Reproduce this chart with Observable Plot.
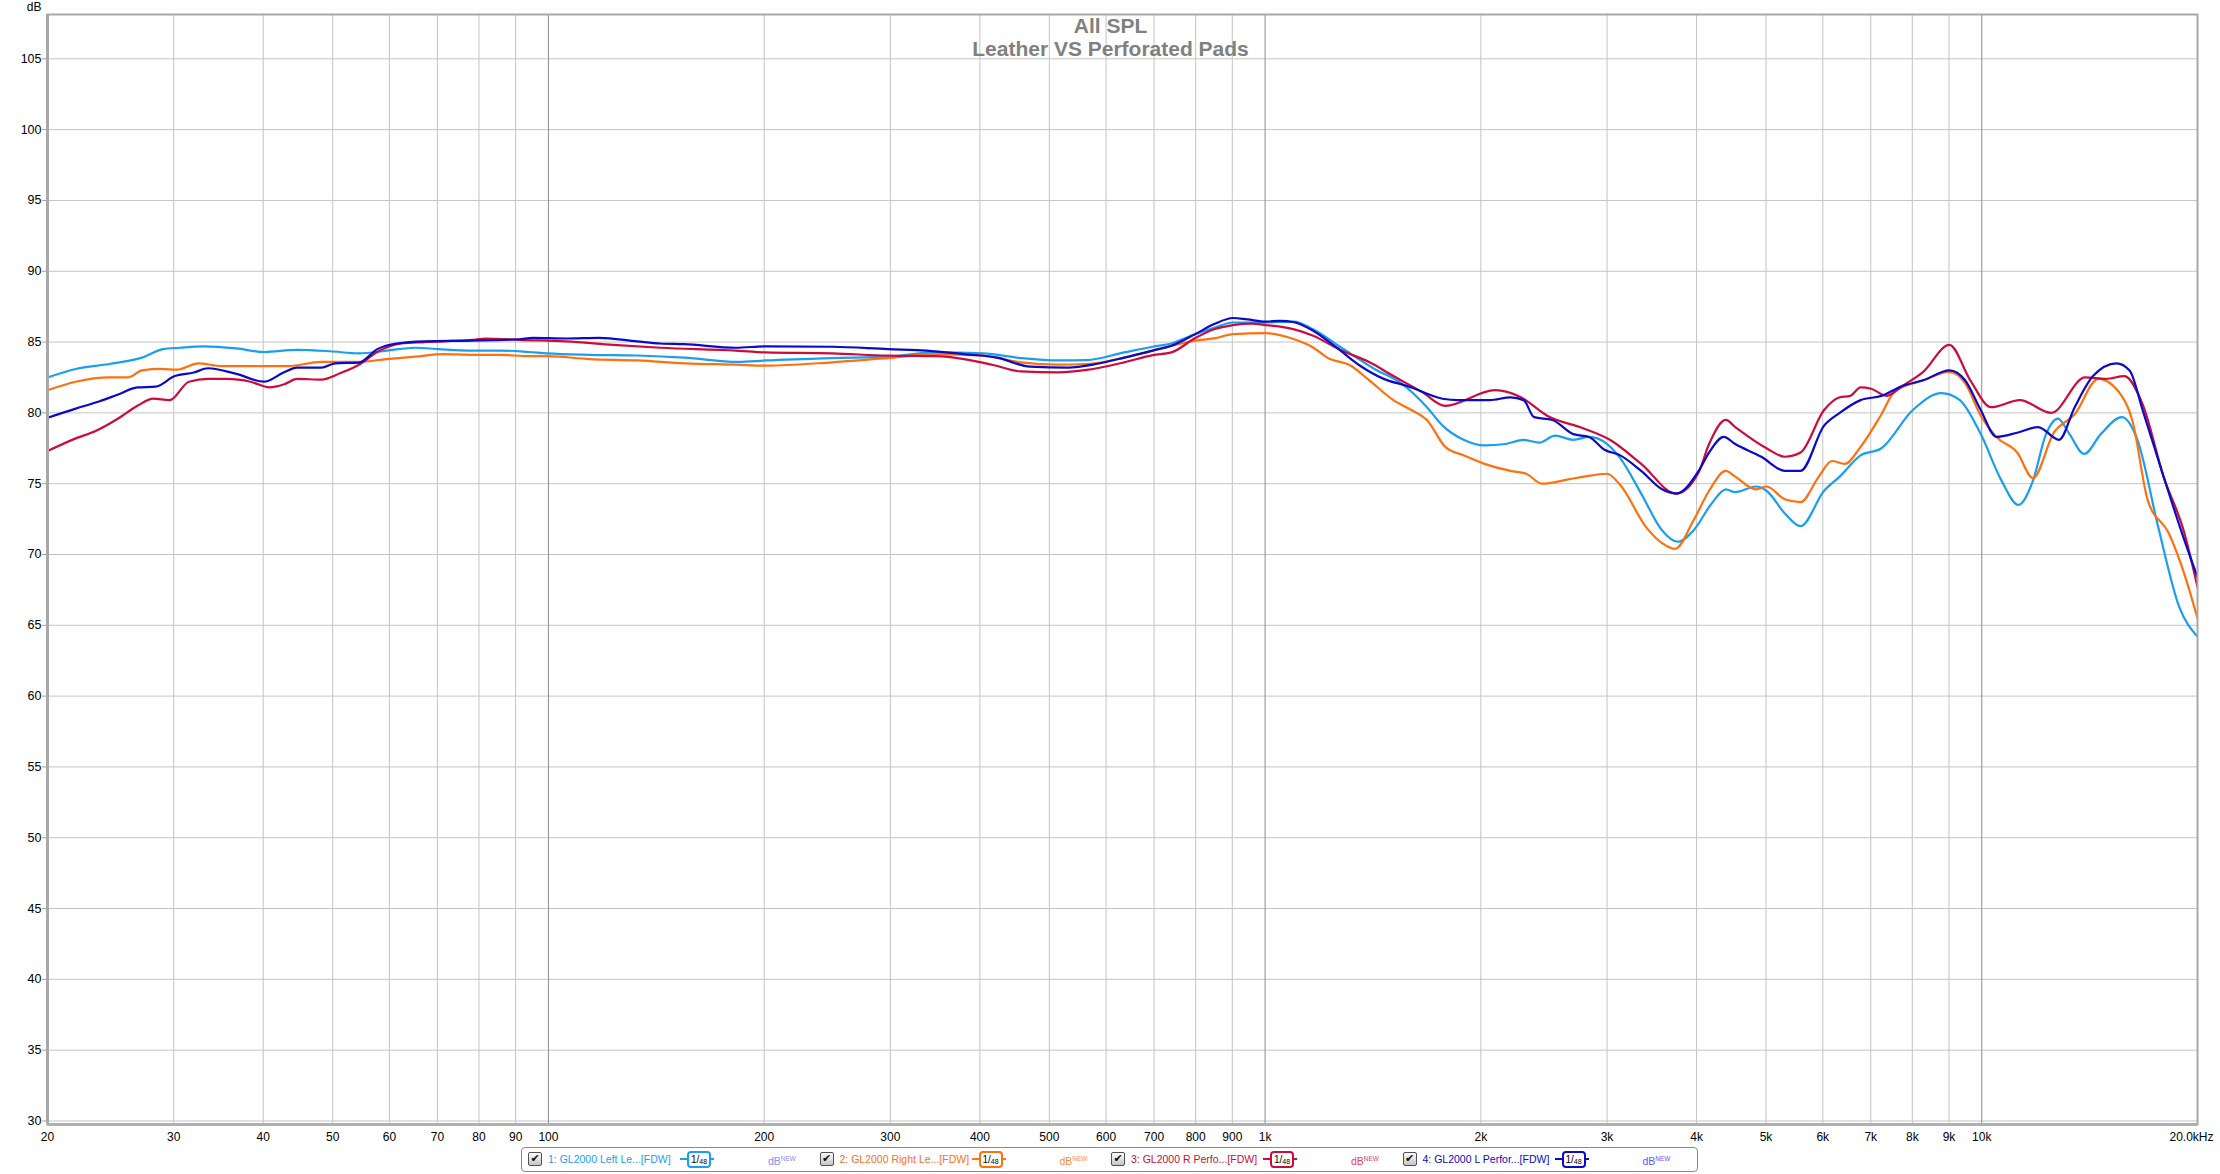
<!DOCTYPE html>
<html><head><meta charset="utf-8">
<script src="https://cdn.jsdelivr.net/npm/d3@7"></script>
<script src="https://cdn.jsdelivr.net/npm/@observablehq/plot@0.6"></script>
<style>
html,body{margin:0;padding:0;background:#fff;}
#wrap{position:relative;width:2220px;height:1174px;font-family:"Liberation Sans",Arial,sans-serif;overflow:hidden;}
#legend{position:absolute;left:521px;top:1147px;width:1177px;height:25px;border:1px solid #8a8a8a;border-radius:4px;box-sizing:border-box;background:#fff;}
.cb{position:absolute;top:4px;width:12px;height:12px;border:1px solid #505050;border-radius:2px;background:linear-gradient(#fdfdfd,#c4c4c4);font:bold 11px "DejaVu Sans";line-height:12px;text-align:center;color:#111;}
.lbl{position:absolute;top:4px;font-size:10.5px;line-height:14px;white-space:nowrap;}
.stub{position:absolute;top:10px;height:2px;width:34px;}
.badge{position:absolute;top:3px;width:20px;height:13px;border:2px solid;border-radius:4px;background:#fff;color:#000;font-size:10px;line-height:13px;text-align:center;white-space:nowrap;}
.badge sub{font-size:7px;vertical-align:-1px;}
.dbn{position:absolute;top:4px;font-size:10.5px;line-height:14px;white-space:nowrap;}
.dbn sup{font-size:6.5px;vertical-align:4px;}
</style>
</head><body>
<div id="wrap"><div id="chart"></div><div id="legend"></div></div>
<script>
// ---- data (frequency in Hz, level in dB) ----
const leftLeatherFreq = [20,21.9,24.4,27.1,29.0,30.6,33.0,36.7,40.1,44.6,49.6,54.4,59.5,65.2,70.3,78.2,85.6,93.8,99.6,114,133,155,184,201,249,298,347,404,456,515,564,636,697,740,799,849,902,1003,1098,1167,1278,1421,1547,1682,1769,1892,2024,2164,2295,2413,2538,2692,2831,3001,3130,3348,3581,3766,3960,4199,4394,4529,4843,5008,5312,5587,6025,6335,6775,7245,8012,8788,9320,9967,10659,11245,11786,12292,12773,13256,13894,14660,15679,16490,17635,18859,20000];
const leftLeatherDb   = [82.5,83.1,83.45,83.9,84.5,84.6,84.7,84.55,84.3,84.45,84.35,84.2,84.4,84.6,84.5,84.4,84.4,84.3,84.2,84.1,84.05,83.9,83.6,83.7,83.87,83.97,84.27,84.2,83.87,83.7,83.73,84.27,84.67,84.9,85.56,86.0,86.38,86.38,86.45,85.9,84.6,83.1,82.1,80.4,79.1,78.1,77.7,77.8,78.1,77.9,78.4,78.1,78.3,77.8,76.8,74.3,71.7,70.9,71.7,73.6,74.6,74.4,74.8,74.5,72.9,72.0,74.5,75.5,77.0,77.5,80.2,81.4,80.9,78.5,75.2,73.5,75.2,78.5,79.6,78.5,77.1,78.5,79.7,78.1,71.9,66.3,64.2];

const rightLeatherFreq = [20,21.9,24.4,25.9,27.1,28.8,30.3,32.5,35.0,40.1,43.3,48.2,54.4,59.5,65.2,71.4,78.2,85.6,93.8,99.6,114,133,155,182.6,201,249,298,347,404,456,515,564,636,697,799,849,902,1003,1098,1167,1221,1317,1399,1510,1600,1682,1784,1892,2024,2200,2314,2433,2647,2784,3001,3130,3405,3581,3734,3960,4164,4394,4529,4843,5008,5312,5587,5924,6178,6442,6775,7245,7555,8286,9012,9478,9967,10481,11207,11786,12605,13480,14538,15679,16215,17052,18238,19178,20000];
const rightLeatherDb   = [81.6,82.2,82.5,82.5,83.0,83.1,83.05,83.5,83.3,83.3,83.3,83.6,83.6,83.8,83.97,84.15,84.1,84.1,84.0,84.0,83.8,83.7,83.5,83.4,83.33,83.57,83.87,84.15,84.04,83.57,83.4,83.45,83.9,84.4,85.1,85.26,85.56,85.63,85.2,84.62,83.9,83.33,82.28,80.9,80.2,79.5,77.6,77.0,76.4,75.9,75.7,75.0,75.3,75.5,75.7,74.9,71.9,70.8,70.4,72.4,74.5,75.9,75.5,74.6,74.8,73.9,73.7,75.5,76.6,76.4,77.6,79.9,81.5,82.3,82.9,82.1,79.8,78.3,77.2,75.4,78.6,79.9,82.4,81.2,79.5,73.8,71.5,68.6,65.5];

const rightPerfFreq = [20,21.9,23.3,25.1,26.7,28.1,29.6,31.5,33.5,35.6,38.4,40.8,42.7,44.6,48.2,51.2,54.4,57.7,62.3,67.2,78.2,81.8,91.0,105.8,123.2,143.3,182.6,201,249,298,347,380,416,456,515,564,636,697,740,799,849,902,958,1003,1098,1167,1278,1399,1510,1653,1784,2093,2275,2475,2784,3027,3348,3747,4027,4164,4394,4529,5008,5312,5587,6025,6335,6551,6775,7008,7367,7747,8286,9012,9638,10307,11302,12500,13941,14908,15811,16768,17934,19178,20000];
const rightPerfDb   = [77.3,78.2,78.7,79.6,80.5,81.0,80.9,82.2,82.4,82.4,82.2,81.8,82.0,82.4,82.35,82.8,83.4,84.3,84.9,85.0,85.15,85.25,85.15,85.05,84.8,84.6,84.4,84.27,84.2,84.04,84.0,83.8,83.4,82.93,82.86,83.03,83.57,84.08,84.27,85.28,85.9,86.2,86.3,86.2,85.9,85.45,84.4,83.57,82.6,81.5,80.5,81.6,81.1,79.8,78.9,78.1,76.4,74.3,75.8,77.8,79.5,79.0,77.5,76.9,77.2,80.2,81.1,81.2,81.8,81.7,81.2,81.9,82.9,84.8,82.3,80.4,80.9,80.0,82.5,82.4,82.6,80.6,75.5,71.5,67.7];

const leftPerfFreq = [20,21.9,23.6,25.1,26.7,28.3,30.1,32.0,33.5,36.7,40.1,42.7,44.6,48.2,50.4,54.4,57.7,61.4,67.2,78.2,91.0,95.2,105.8,117.7,132.9,143.3,154.6,182.6,201,249,298,337,380,423,470,531,581,636,697,740,799,849,902,944,1003,1049,1098,1167,1259,1357,1464,1579,1769,1861,2058,2200,2295,2373,2517,2692,2831,2976,3130,3348,3581,3747,4027,4164,4365,4529,4925,5312,5587,6025,6335,6775,7245,7747,8286,9012,9478,9967,10481,11207,11986,12818,13480,14296,15418,16080,16768,17934,19178,20000];
const leftPerfDb   = [79.65,80.3,80.8,81.3,81.8,81.85,82.6,82.85,83.15,82.75,82.2,82.85,83.2,83.2,83.5,83.55,84.5,84.9,85.05,85.1,85.2,85.3,85.25,85.3,85.05,84.9,84.85,84.6,84.7,84.67,84.5,84.4,84.15,83.9,83.26,83.2,83.45,83.9,84.4,84.74,85.56,86.27,86.7,86.6,86.45,86.5,86.4,85.8,84.6,83.33,82.4,81.9,81.0,80.9,80.9,81.1,80.9,79.7,79.5,78.5,78.3,77.4,77.0,75.9,74.6,74.3,75.9,77.2,78.3,77.8,76.9,75.9,75.9,79.1,80.0,80.9,81.2,81.9,82.3,83.0,82.3,80.2,78.3,78.6,79.0,78.1,80.4,82.6,83.5,83.0,80.2,75.5,71.0,68.4];

const seriesNames  = ["1: GL2000 Left Le...[FDW]", "2: GL2000 Right Le...[FDW]", "3: GL2000 R Perfo...[FDW]", "4: GL2000 L Perfor...[FDW]"];
const seriesColors = ["#1a9ff0", "#ff700f", "#cc0c3c", "#0a0ac8"];
const newColors    = ["#8a8cff", "#ff8a3a", "#e2406a", "#5a5aff"];

const yTicks = [30,35,40,45,50,55,60,65,70,75,80,85,90,95,100,105];
const minorX = [30,40,50,60,70,80,90,200,300,400,500,600,700,800,900,2000,3000,4000,5000,6000,7000,8000,9000];
const decadeX = [100,1000,10000];
const xLabelFreqs = [20,30,40,50,60,70,80,90,100,200,300,400,500,600,700,800,900,1000,2000,3000,4000,5000,6000,7000,8000,9000,10000];
const xLabelTexts = ["20","30","40","50","60","70","80","90","100","200","300","400","500","600","700","800","900","1k","2k","3k","4k","5k","6k","7k","8k","9k","10k"];
const titleLines = ["All SPL", "Leather VS Perforated Pads"];

// ---- build ----
const rows = (f, d) => f.map((v, i) => ({f: v, db: d[i]}));
const series = [
  rows(leftLeatherFreq, leftLeatherDb),
  rows(rightLeatherFreq, rightLeatherDb),
  rows(rightPerfFreq, rightPerfDb),
  rows(leftPerfFreq, leftPerfDb)
];
const xLabels = xLabelFreqs.map((f, i) => ({f, t: xLabelTexts[i]}));
const yMin = 29.75, yMax = 108.13;

const chart = Plot.plot({
  width: 2220, height: 1146,
  marginLeft: 47, marginRight: 23, marginTop: 14, marginBottom: 22,
  style: {fontFamily: '"Liberation Sans", Arial, sans-serif', fontSize: "12px", background: "#fff", color: "#000", overflow: "visible"},
  x: {type: "log", domain: [20, 20000], axis: null},
  y: {domain: [yMin, yMax]},
  marks: [
    Plot.ruleY(yTicks, {stroke: "#c4c4c4", strokeWidth: 1}),
    Plot.ruleX(minorX, {stroke: "#c4c4c4", strokeWidth: 1}),
    Plot.ruleX(decadeX, {stroke: "#8c8c8c", strokeWidth: 1}),
    Plot.axisY(yTicks, {tickSize: 5, tickPadding: 1, stroke: "#a0a0a0", fontSize: 12.5, label: null}),
    Plot.text(xLabels, {x: "f", text: "t", frameAnchor: "bottom", dy: 13, lineAnchor: "middle", fontSize: 12}),
    Plot.text(["20.0kHz"], {x: () => 20000, text: d => d, frameAnchor: "bottom", dy: 13, dx: -6, lineAnchor: "middle", fontSize: 12}),
    Plot.text(["dB"], {text: d => d, frameAnchor: "top-left", dx: -6, dy: -7, textAnchor: "end", lineAnchor: "middle", fontSize: 12}),
    ...series.map((s, i) => Plot.line(s, {x: "f", y: "db", stroke: seriesColors[i], strokeWidth: 2.2, curve: "monotone-x", clip: true})),
    Plot.frame({stroke: "#a8a8a8", strokeWidth: 2}),
    Plot.ruleX([20], {stroke: "#a8a8a8", strokeWidth: 3}),
    Plot.ruleY([yMin], {stroke: "#b0b0b0", strokeWidth: 3}),
    Plot.text([titleLines[0]], {text: d => d, frameAnchor: "top", dy: 12, dx: -12, lineAnchor: "middle", fontWeight: "bold", fontSize: 21, fill: "#808080"}),
    Plot.text([titleLines[1]], {text: d => d, frameAnchor: "top", dy: 35, dx: -12, lineAnchor: "middle", fontWeight: "bold", fontSize: 21, fill: "#808080"})
  ]
});
document.getElementById("chart").appendChild(chart);

// ---- legend ----
const legend = document.getElementById("legend");
seriesNames.forEach((name, i) => {
  const base = 291.5 * i;
  const cb = document.createElement("div");
  cb.className = "cb"; cb.style.left = (6 + base) + "px"; cb.textContent = "\u2714";
  legend.appendChild(cb);
  const lbl = document.createElement("div");
  lbl.className = "lbl"; lbl.style.left = (26 + base) + "px"; lbl.style.color = seriesColors[i]; lbl.textContent = name;
  legend.appendChild(lbl);
  const stub = document.createElement("div");
  stub.className = "stub"; stub.style.left = (158 + base) + "px"; stub.style.background = seriesColors[i];
  legend.appendChild(stub);
  const badge = document.createElement("div");
  badge.className = "badge"; badge.style.left = (165 + base) + "px"; badge.style.borderColor = seriesColors[i];
  badge.innerHTML = "1/<sub>48</sub>";
  legend.appendChild(badge);
  const dbn = document.createElement("div");
  dbn.className = "dbn"; dbn.style.left = (246 + base) + "px"; dbn.style.color = newColors[i];
  dbn.innerHTML = "dB<sup>NEW</sup>";
  legend.appendChild(dbn);
});
</script>
</body></html>
